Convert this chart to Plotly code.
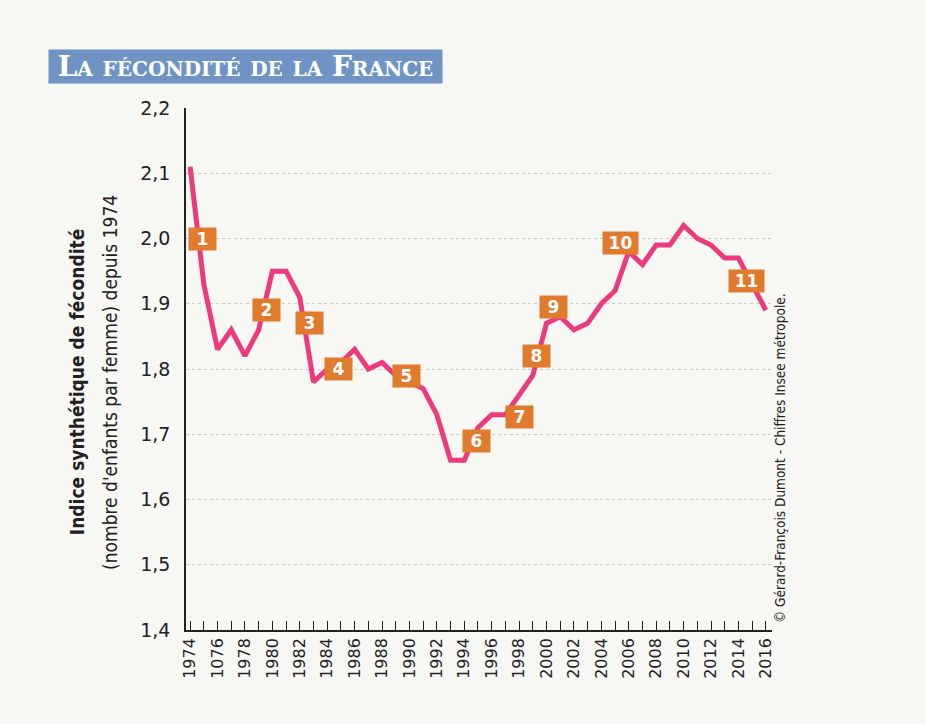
import plotly.graph_objects as go

years = list(range(1974, 2017))
fecondite = [2.11, 1.93, 1.83, 1.86, 1.82, 1.86, 1.95, 1.95, 1.91, 1.78,
             1.80, 1.81, 1.83, 1.80, 1.81, 1.79, 1.78, 1.77, 1.73, 1.66,
             1.66, 1.71, 1.73, 1.73, 1.76, 1.79, 1.87, 1.88, 1.86, 1.87,
             1.90, 1.92, 1.98, 1.96, 1.99, 1.99, 2.02, 2.00, 1.99, 1.97,
             1.97, 1.93, 1.89]

# labels as printed (including the "1076" of the original)
tick_labels = ["1974", "1076", "1978", "1980", "1982", "1984", "1986", "1988",
               "1990", "1992", "1994", "1996", "1998", "2000", "2002", "2004",
               "2006", "2008", "2010", "2012", "2014", "2016"]

marker_num = ["1", "2", "3", "4", "5", "6", "7", "8", "9", "10", "11"]
marker_x = [1974.9, 1979.6, 1982.7, 1984.8, 1989.8, 1994.9, 1998.0, 1999.3, 2000.5, 2005.4, 2014.6]
marker_y = [2.00, 1.89, 1.87, 1.80, 1.79, 1.69, 1.726, 1.82, 1.895, 1.993, 1.935]

ticktext = []
i = 0
for y in years:
    if (y - 1974) % 2 == 0:
        ticktext.append(tick_labels[i])
        i += 1
    else:
        ticktext.append("")

fig = go.Figure()
fig.add_trace(go.Scatter(x=years, y=fecondite, mode='lines',
                         line=dict(color='#ec3a7c', width=5), hoverinfo='skip'))

for n, x, y in zip(marker_num, marker_x, marker_y):
    fig.add_annotation(x=x, y=y, xref='x', yref='y', text='<b>' + n + '</b>', showarrow=False,
                       font=dict(family='DejaVu Sans', size=17, color='white'),
                       bgcolor='#e07a2c', width=23 if len(n) == 1 else 31, height=18, borderpad=2)

fig.add_annotation(x=-0.2355, y=1.0795, xref='paper', yref='paper', xanchor='left', yanchor='middle',
                   text='<b>La fécondité de la France</b>', showarrow=False,
                   font=dict(family='DejaVu Serif', size=28, color='white', variant='small-caps'),
                   bgcolor='#6f94c4', width=387, height=27, borderpad=3, align='center')

# y axis title, two lines
fig.add_annotation(x=-0.208, y=0.475, xref='paper', yref='paper', textangle=-90,
                   text="<b>Indice synthétique de fécondité</b>",
                   showarrow=False, font=dict(family='DejaVu Sans Condensed', size=19, color='#222'))
fig.add_annotation(x=-0.152, y=0.475, xref='paper', yref='paper', textangle=-90,
                   text="(nombre d'enfants par femme) depuis 1974",
                   showarrow=False, font=dict(family='DejaVu Sans Condensed', size=19, color='#222'))

fig.add_annotation(x=1.031, y=0.01, xref='paper', yref='paper', textangle=-90, yanchor='bottom',
                   text='© Gérard-François Dumont - Chiffres Insee métropole.',
                   showarrow=False, font=dict(family='DejaVu Sans Condensed', size=13.5, color='#222'))

fig.update_xaxes(range=[1973.7, 2016.45], tickvals=years, ticktext=ticktext, tickangle=-90,
                 ticks='inside', ticklen=9, tickwidth=1.2, tickcolor='#222',
                 showline=True, linecolor='#222', linewidth=1.5, showgrid=False, zeroline=False,
                 tickfont=dict(family='DejaVu Sans', size=16, color='#222'))
fig.update_yaxes(range=[1.4, 2.2], dtick=0.1, tickformat='.1f', showline=True, linecolor='#222',
                 linewidth=1.5, gridcolor='#c8c8c8', griddash='dot', gridwidth=1, zeroline=False,
                 ticklabelstandoff=10, tickfont=dict(family='DejaVu Sans', size=19, color='#222'))

fig.update_layout(width=925, height=724, margin=dict(l=186, r=153, t=108, b=94),
                  paper_bgcolor='#f7f7f4', plot_bgcolor='#f7f7f4', showlegend=False,
                  separators=', ')

fig.write_html("out.html", config={'displayModeBar': False},
               post_script="document.body.style.margin='0';")
